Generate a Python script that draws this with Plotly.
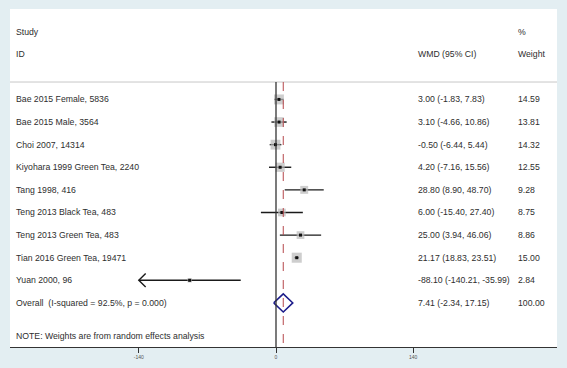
import numpy as np
import plotly.graph_objects as go

# ---------------- data ----------------
studies = ["Bae 2015 Female, 5836", "Bae 2015 Male, 3564", "Choi 2007, 14314",
           "Kiyohara 1999 Green Tea, 2240", "Tang 1998, 416", "Teng 2013 Black Tea, 483",
           "Teng 2013 Green Tea, 483", "Tian 2016 Green Tea, 19471", "Yuan 2000, 96"]
wmd = [3.00, 3.10, -0.50, 4.20, 28.80, 6.00, 25.00, 21.17, -88.10]
ci_low = [-1.83, -4.66, -6.44, -7.16, 8.90, -15.40, 3.94, 18.83, -140.21]
ci_high = [7.83, 10.86, 5.44, 15.56, 48.70, 27.40, 46.06, 23.51, -35.99]
weights = [14.59, 13.81, 14.32, 12.55, 9.28, 8.75, 8.86, 15.00, 2.84]

overall_label = "Overall  (I-squared = 92.5%, p = 0.000)"
overall_wmd = 7.41
overall_low = -2.34
overall_high = 17.15
overall_weight = 100.00

tick_vals = [-140, 0, 140]
tick_text = ["-140", "0", "140"]

# ---------------- layout constants ----------------
W, H = 567, 368
ML, MR, MT, MB = 10, 10, 9, 21
zero_px = 276
px_per_unit = 0.98
plot_w = W - ML - MR
x_min = (ML - zero_px) / px_per_unit
x_max = (W - MR - zero_px) / px_per_unit
y_top, y_bot = -4.0, 10.95
sep_y = -0.77
n = len(studies)
rows = list(range(n))
overall_row = n

font_fam = "Liberation Sans, Arial, sans-serif"
txt_col = "#2e2e2e"
fsize = 8.7

def px_to_paper(px):
    return (px - ML) / plot_w

fig = go.Figure()

# CI lines (clip at axis limits with arrow)
clip_lo, clip_hi = min(tick_vals), max(tick_vals)
lx, ly = [], []
for r, lo, hi in zip(rows, ci_low, ci_high):
    lx += [max(lo, clip_lo), min(hi, clip_hi), None]
    ly += [r, r, None]
fig.add_trace(go.Scatter(x=lx, y=ly, mode="lines", line=dict(color="#1a1a1a", width=1.4),
                         hoverinfo="skip", showlegend=False))

# arrows for clipped CIs
ax, ay = [], []
for r, lo in zip(rows, ci_low):
    if lo < clip_lo:
        ax += [clip_lo + 7, clip_lo, clip_lo + 7, None]
        ay += [r - 0.3, r, r + 0.3, None]
fig.add_trace(go.Scatter(x=ax, y=ay, mode="lines", line=dict(color="#1a1a1a", width=1.4),
                         hoverinfo="skip", showlegend=False))

# weight boxes
fig.add_trace(go.Scatter(x=wmd, y=rows, mode="markers",
                         marker=dict(symbol="square", size=[2.6 * np.sqrt(w) for w in weights],
                                     color="#b9b9b9", line=dict(width=0)),
                         hoverinfo="skip", showlegend=False))
# point estimates
fig.add_trace(go.Scatter(x=wmd, y=rows, mode="markers",
                         marker=dict(symbol="square", size=3, color="#111111"),
                         hoverinfo="skip", showlegend=False))

# overall diamond
h = 0.4
fig.add_trace(go.Scatter(x=[overall_low, overall_wmd, overall_high, overall_wmd, overall_low],
                         y=[overall_row, overall_row - h, overall_row, overall_row + h, overall_row],
                         mode="lines", line=dict(color="#1c1c8a", width=1.5),
                         hoverinfo="skip", showlegend=False))

shapes = [
    dict(type="line", xref="paper", yref="y", x0=0, x1=1, y0=sep_y, y1=sep_y,
         line=dict(color="#c8c8c8", width=1)),
    dict(type="line", xref="x", yref="y", x0=0, x1=0, y0=sep_y, y1=y_bot,
         line=dict(color="#333333", width=1.3)),
    dict(type="line", xref="x", yref="y", x0=overall_wmd, x1=overall_wmd, y0=sep_y, y1=y_bot,
         line=dict(color="#b5474b", width=1, dash="dash")),
]

annotations = []
def add_text(px, y, text):
    annotations.append(dict(x=px_to_paper(px), xref="paper", y=y, yref="y", text=text,
                            showarrow=False, xanchor="left", yanchor="middle", borderpad=0,
                            font=dict(family=font_fam, size=fsize, color=txt_col)))

add_text(15, -3, "Study")
add_text(15, -2, "ID")
add_text(417, -2, "WMD (95% CI)")
add_text(517, -3, "%")
add_text(517, -2, "Weight")
for r, s, e, lo, hi, w in zip(rows, studies, wmd, ci_low, ci_high, weights):
    add_text(15, r, s)
    add_text(417, r, f"{e:.2f} ({lo:.2f}, {hi:.2f})")
    add_text(517, r, f"{w:.2f}")
add_text(15, overall_row, overall_label)
add_text(417, overall_row, f"{overall_wmd:.2f} ({overall_low:.2f}, {overall_high:.2f})")
add_text(517, overall_row, f"{overall_weight:.2f}")
add_text(15, 10.46, "NOTE: Weights are from random effects analysis")

fig.update_layout(
    width=W, height=H,
    margin=dict(l=ML, r=MR, t=MT, b=MB),
    paper_bgcolor="#e3eef2", plot_bgcolor="white",
    shapes=shapes, annotations=annotations,
    xaxis=dict(range=[x_min, x_max], showgrid=False, zeroline=False,
               tickmode="array", tickvals=tick_vals, ticktext=tick_text,
               ticks="outside", ticklen=5, tickwidth=1.3, tickcolor="#333333",
               tickfont=dict(family=font_fam, size=5, color="#555555"),
               showline=True, linecolor="#333333", linewidth=1.3, fixedrange=True),
    yaxis=dict(range=[y_bot, y_top], visible=False, showgrid=False, zeroline=False,
               fixedrange=True),
)

fig.write_html("out.html", config={"displayModeBar": False},
               post_script="document.body.style.margin='0';document.body.style.overflow='hidden';")
